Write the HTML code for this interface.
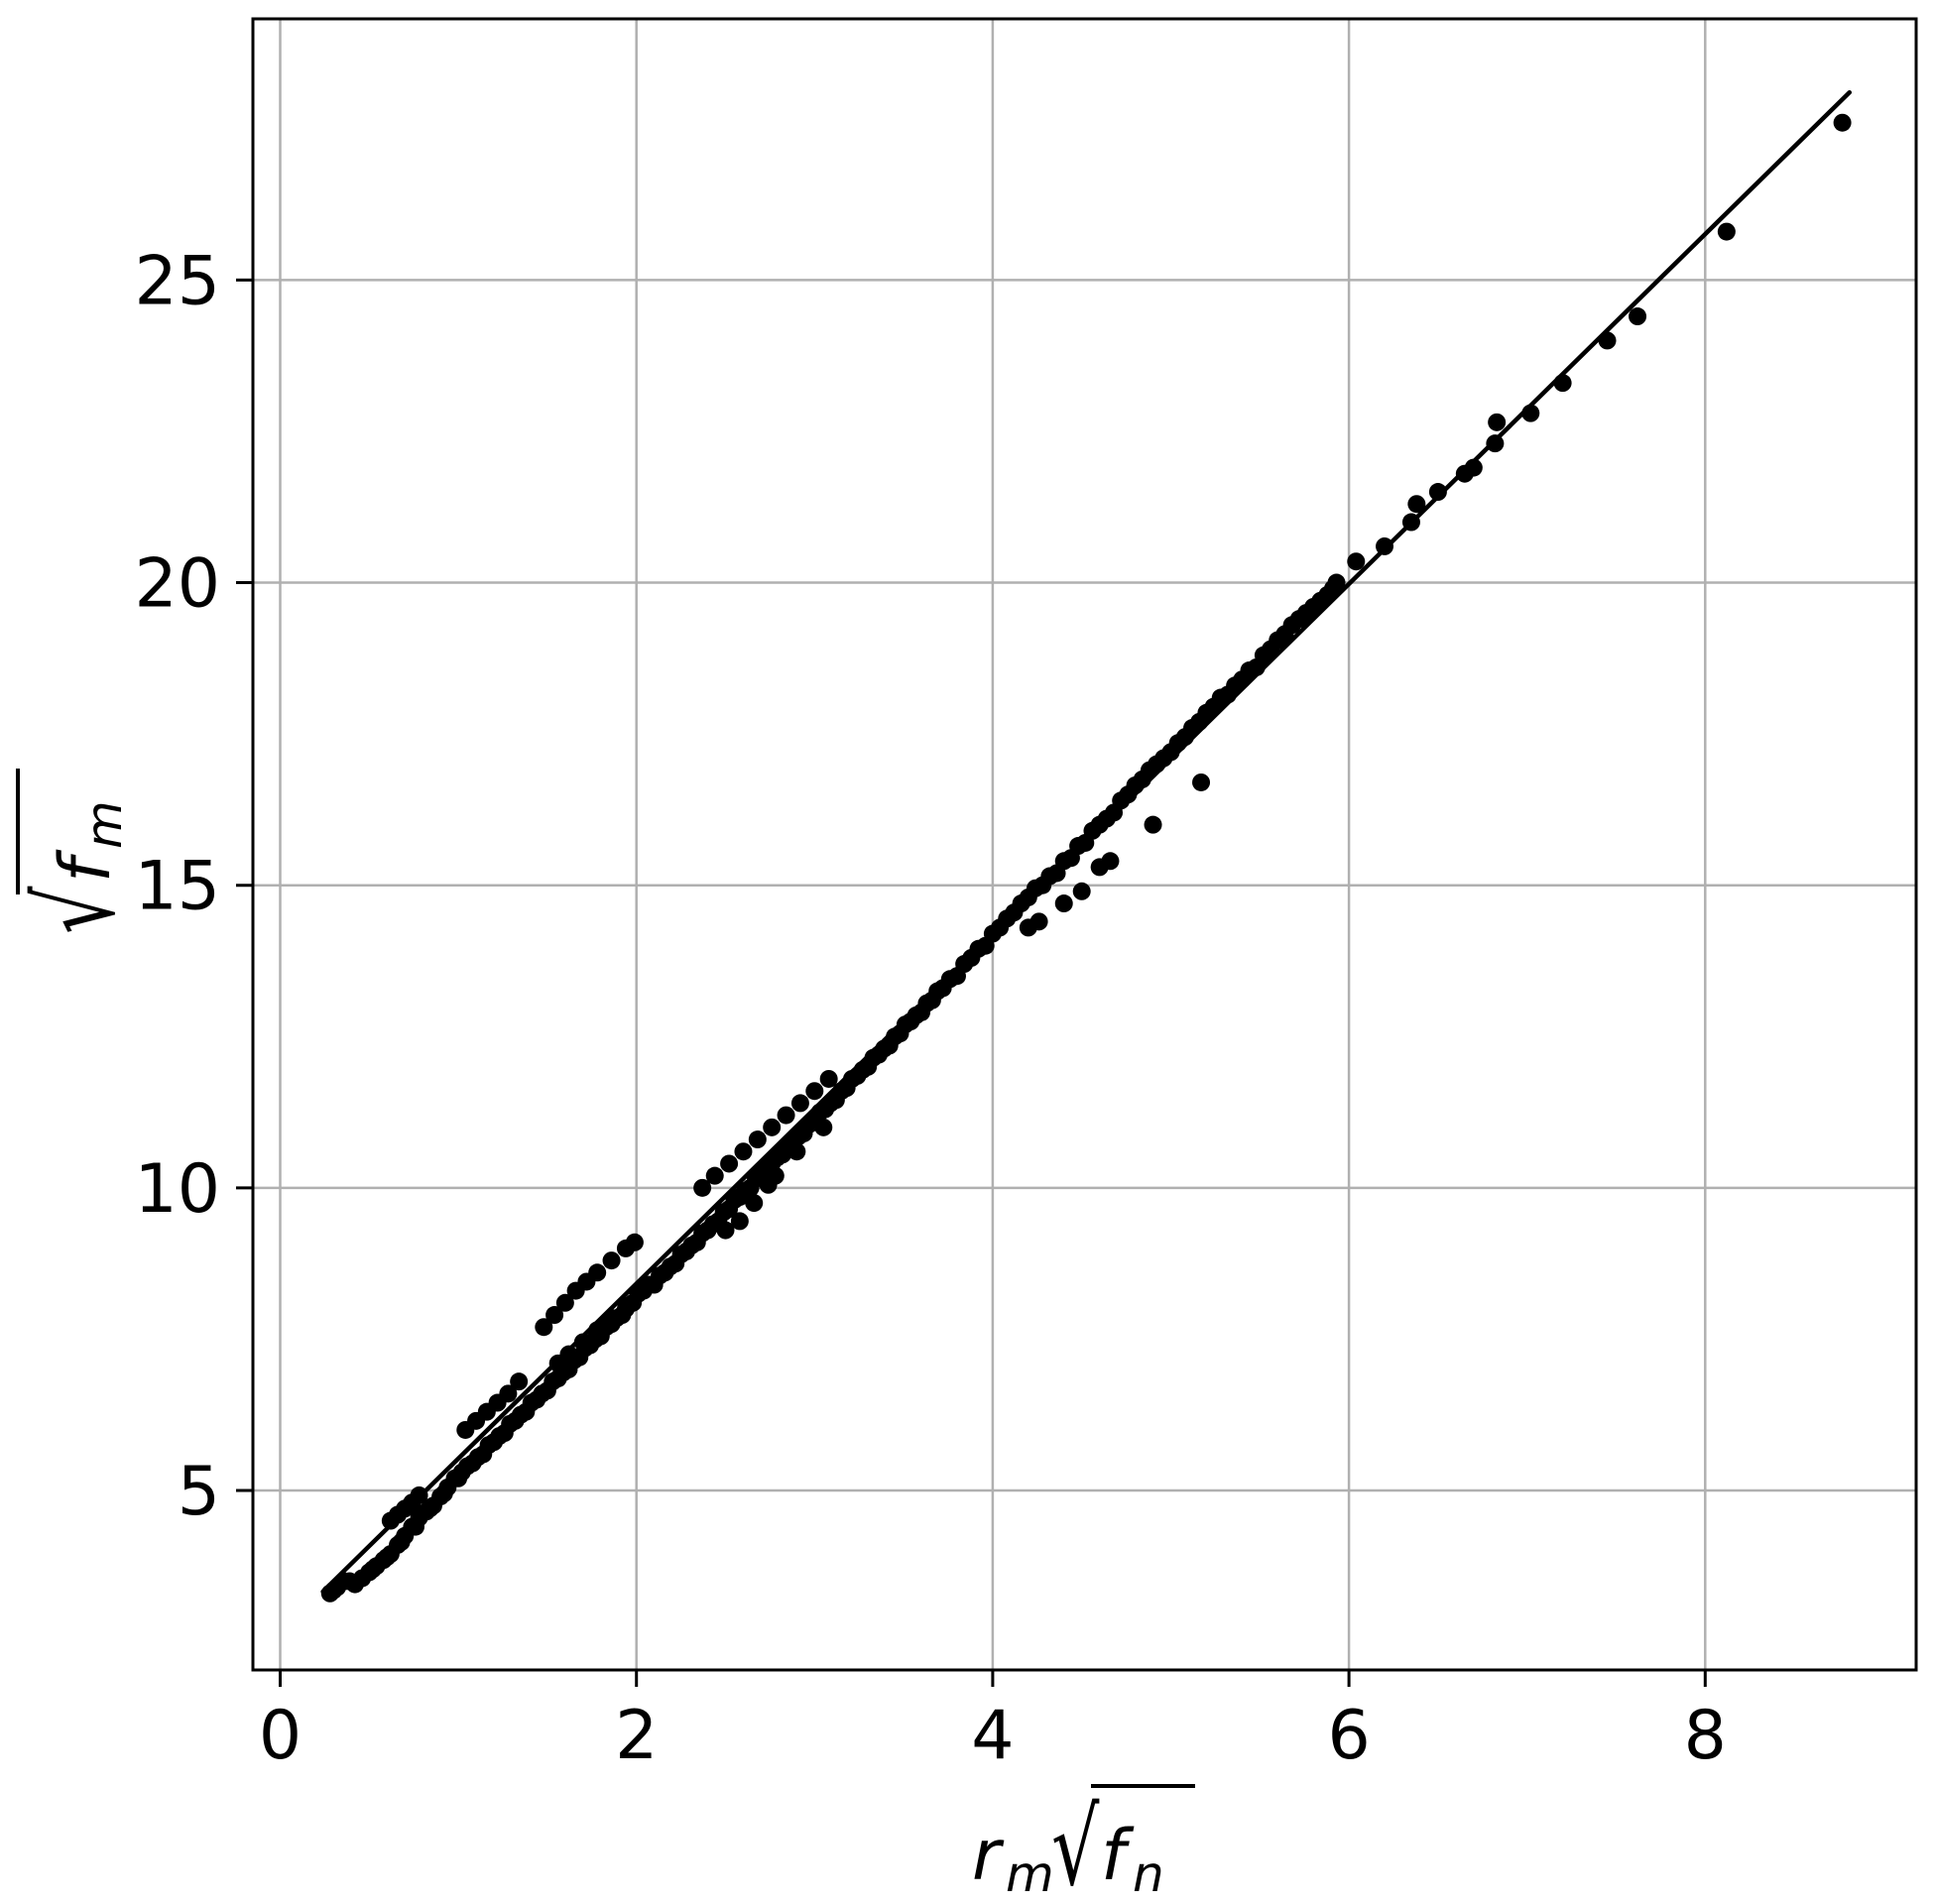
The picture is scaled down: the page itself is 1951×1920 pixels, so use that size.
<!DOCTYPE html>
<html><head><meta charset="utf-8"><style>
body{margin:0;background:#fff}
svg{display:block;font-family:"DejaVu Sans","Liberation Sans",sans-serif}
</style></head><body>
<svg id="chart" width="1951" height="1920" viewBox="0 0 1951 1920" xmlns="http://www.w3.org/2000/svg">
<rect width="1951" height="1920" fill="#fff"/>
<g id="grid"></g>
<g id="fit"></g>
<g id="pts"></g>
<rect x="255" y="19" width="1677" height="1665" fill="none" stroke="#000" stroke-width="3"/>
<g id="ticks"></g>
<g>
<text x="980" y="1895" font-size="70" font-style="italic">r</text>
<text x="1014" y="1907" font-size="50" font-style="italic">m</text>
<text transform="translate(1060,1900) scale(1,1.4)" font-size="76">√</text>
<line x1="1100" y1="1801" x2="1205" y2="1801" stroke="#000" stroke-width="4"/>
<text x="1110" y="1895" font-size="70" font-style="italic">f</text>
<text x="1142" y="1907" font-size="50" font-style="italic">n</text>
</g>
<g transform="translate(110,860) rotate(-90)">
<text transform="translate(-82,4) scale(1,1.4)" font-size="76">√</text>
<line x1="-42" y1="-92" x2="85" y2="-92" stroke="#000" stroke-width="4"/>
<text x="-30" y="0" font-size="70" font-style="italic">f</text>
<text x="4" y="12" font-size="50" font-style="italic">m</text>
</g>
</svg>
<script>
const xTicks=[0,2,4,6,8];
const yTicks=[5,10,15,20,25];
const fitX=[0.24,8.81];
const fitY=[3.33,28.1];
const ptX=[0.28,0.32,0.36,0.42,0.46,0.5,0.54,0.58,0.62,0.66,0.7,0.74,0.78,0.82,0.86,0.9,0.94,0.98,1.02,1.08,1.14,1.2,1.26,1.32,1.38,1.44,1.5,1.56,1.62,1.68,1.74,1.8,1.86,1.92,1.98,2.04,2.1,2.16,2.22,2.28,2.34,2.4,2.46,2.52,2.58,2.64,2.7,2.76,2.82,2.88,2.94,3.0,3.06,3.12,3.18,3.24,3.3,3.36,3.42,3.48,3.54,3.6,3.66,3.72,3.8,3.88,3.96,4.04,4.12,4.2,4.28,4.36,4.44,4.52,4.6,4.68,4.76,4.84,4.92,5.0,5.08,5.16,5.24,5.32,5.4,5.48,5.56,5.64,5.72,5.8,5.88,5.93,
6.04,6.2,6.35,6.38,6.5,6.65,6.7,6.82,6.83,7.02,7.2,7.45,7.62,8.12,8.77,
0.62,0.66,0.7,0.74,0.78,1.04,1.1,1.16,1.22,1.28,1.34,1.48,1.54,1.6,1.66,1.72,1.78,1.86,1.94,1.99,2.37,2.44,2.52,2.6,2.68,2.76,2.84,2.92,3.0,3.08,
1.56,1.62,1.7,1.78,1.86,1.94,2.5,2.58,2.66,2.74,2.78,2.9,3.05,4.2,4.26,4.4,4.5,4.6,4.66,4.9,5.17,
0.3,0.39,0.52,0.6,0.68,0.76,0.84,0.92,1.0,1.05,1.11,1.17,1.23,1.29,1.35,1.41,1.47,1.53,1.59,1.65,1.71,1.77,1.83,1.89,1.95,2.01,2.07,2.13,2.19,2.25,2.31,2.37,2.43,2.49,2.55,2.61,2.67,2.73,2.79,2.85,2.91,2.97,3.03,3.09,3.15,3.21,3.27,3.33,3.39,3.45,3.51,3.57,3.63,3.69,3.76,3.84,3.92,4.0,4.08,4.16,4.24,4.32,4.4,4.48,4.56,4.64,4.72,4.8,4.88,4.96,5.04,5.12,5.2,5.28,5.36,5.44,5.52,5.6,5.68,5.76,5.84,5.91];
const ptY=[3.3,3.4,3.5,3.45,3.55,3.65,3.75,3.85,3.95,4.1,4.25,4.4,4.55,4.65,4.75,4.9,5.05,5.2,5.3,5.45,5.6,5.8,5.95,6.15,6.3,6.5,6.65,6.85,7.0,7.2,7.4,7.55,7.75,7.9,8.1,8.3,8.4,8.6,8.75,8.95,9.1,9.3,9.45,9.65,9.85,10.0,10.2,10.4,10.55,10.75,10.9,11.1,11.3,11.45,11.65,11.85,12.0,12.2,12.35,12.55,12.75,12.9,13.1,13.3,13.5,13.8,14.0,14.3,14.55,14.8,15.0,15.2,15.45,15.7,16.0,16.2,16.5,16.75,17.0,17.2,17.45,17.7,17.95,18.15,18.4,18.6,18.9,19.15,19.4,19.6,19.8,20.0,
20.35,20.6,21.0,21.3,21.5,21.8,21.9,22.3,22.65,22.8,23.3,24.0,24.4,25.8,27.6,
4.5,4.6,4.7,4.8,4.92,6.0,6.15,6.3,6.45,6.6,6.8,7.7,7.9,8.1,8.3,8.45,8.6,8.8,9.0,9.1,10.0,10.2,10.4,10.6,10.8,11.0,11.2,11.4,11.6,11.8,
7.1,7.25,7.45,7.65,7.85,8.0,9.3,9.45,9.75,10.05,10.2,10.6,11.0,14.3,14.4,14.7,14.9,15.3,15.4,16.0,16.7,
3.35,3.5,3.7,3.9,4.15,4.4,4.7,4.95,5.2,5.4,5.55,5.75,5.9,6.1,6.25,6.45,6.6,6.8,6.95,7.15,7.35,7.5,7.7,7.85,8.05,8.25,8.4,8.55,8.7,8.9,9.05,9.25,9.4,9.6,9.8,9.95,10.15,10.35,10.5,10.7,10.85,11.05,11.25,11.4,11.6,11.8,11.95,12.15,12.3,12.5,12.7,12.85,13.05,13.25,13.45,13.7,13.95,14.2,14.45,14.7,14.95,15.15,15.4,15.65,15.9,16.1,16.4,16.65,16.9,17.1,17.35,17.6,17.85,18.1,18.3,18.55,18.8,19.05,19.3,19.5,19.7,19.9];
const NS="http://www.w3.org/2000/svg";
const X0=282.5,XU=179.6,Y5=1503,YU=61.03;
function sx(v){return X0+v*XU;}
function sy(v){return Y5-(v-5)*YU;}
function mk(tag,attrs,parent){const e=document.createElementNS(NS,tag);for(const k in attrs)e.setAttribute(k,attrs[k]);parent.appendChild(e);return e;}
const grid=document.getElementById('grid'),ticks=document.getElementById('ticks'),pts=document.getElementById('pts'),fit=document.getElementById('fit');
xTicks.forEach(t=>{
  const g=mk('line',{x1:sx(t),x2:sx(t),y1:19,y2:1684,stroke:'#b0b0b0','stroke-width':2.5},grid);
  
  
  const tk=mk('line',{x1:sx(t),x2:sx(t),y1:1684,y2:1701,stroke:'#000','stroke-width':3},ticks);
  
  
  const lb=mk('text',{x:sx(t),y:1773,'font-size':68,'text-anchor':'middle'},ticks);
  lb.textContent=t;
  
  
});
yTicks.forEach(t=>{
  const g=mk('line',{x1:255,x2:1932,y1:sy(t),y2:sy(t),stroke:'#b0b0b0','stroke-width':2.5},grid);
  
  
  const tk=mk('line',{x1:238,x2:255,y1:sy(t),y2:sy(t),stroke:'#000','stroke-width':3},ticks);
  
  
  const lb=mk('text',{x:222,y:sy(t)+24,'font-size':68,'text-anchor':'end'},ticks);
  lb.textContent=t;
  
  
});
const fl=mk('line',{x1:sx(fitX[0]),y1:sy(fitY[0]),x2:sx(fitX[1]),y2:sy(fitY[1]),stroke:'#000','stroke-width':4.5,'stroke-linecap':'round'},fit);


ptX.forEach((x,i)=>{
  const c=mk('circle',{cx:sx(x),cy:sy(ptY[i]),r:9,fill:'#000'},pts);
  
  
});
</script>
</body></html>
